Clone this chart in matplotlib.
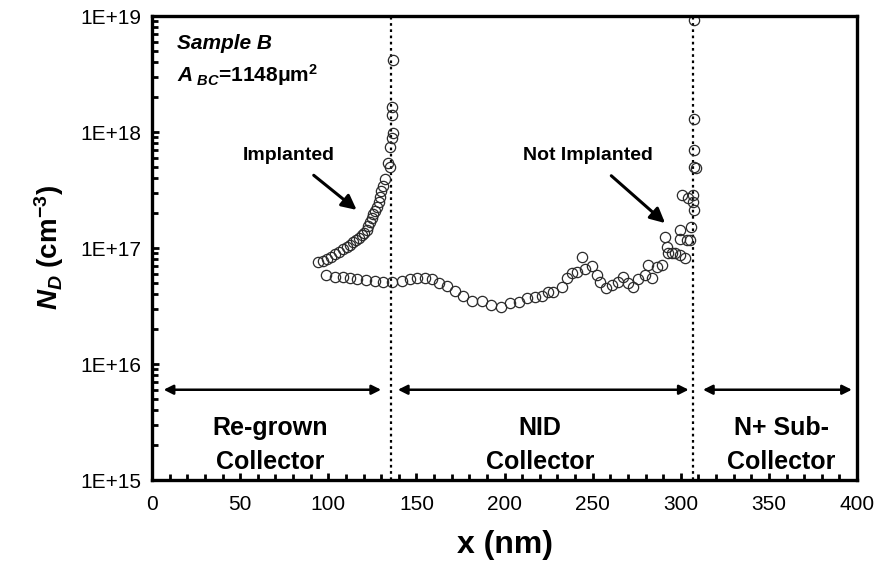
import numpy as np
import matplotlib
matplotlib.use("Agg")
import matplotlib.pyplot as plt
from matplotlib.ticker import FixedLocator, LogLocator, FuncFormatter, MultipleLocator, NullFormatter

plt.rcParams['font.family'] = ['Liberation Sans', 'DejaVu Sans']
plt.rcParams['mathtext.fontset'] = 'custom'
plt.rcParams['mathtext.it'] = 'Liberation Sans:italic:bold'
plt.rcParams['mathtext.rm'] = 'Liberation Sans:bold'
plt.rcParams['mathtext.bf'] = 'Liberation Sans:bold'

# Implanted profile (re-grown collector region)
implanted_x = [94.4, 97.0, 99.1, 101.5, 103.8, 106.2, 108.5, 110.5, 112.3, 114.0,
               115.7, 117.4, 119.0, 120.4, 121.8, 122.8, 123.7, 124.6, 125.4, 126.6,
               127.7, 128.6, 129.4, 130.2, 131.0, 132.2, 133.9, 135.0, 135.0, 136.2,
               136.7, 136.2, 136.2, 136.7]
implanted_nd = [7.5e16, 7.8e16, 8.1e16, 8.4e16, 8.8e16, 9.3e16, 9.8e16, 1.02e17, 1.06e17, 1.12e17,
                1.17e17, 1.23e17, 1.29e17, 1.36e17, 1.43e17, 1.54e17, 1.66e17, 1.80e17, 1.95e17, 2.10e17,
                2.24e17, 2.5e17, 2.75e17, 3.1e17, 3.4e17, 3.9e17, 5.4e17, 5.0e17, 7.4e17, 8.9e17,
                9.8e17, 1.4e18, 1.65e18, 4.2e18]

# Not implanted profile (through the NID collector)
not_impl_x = [98.6, 103.8, 108.5, 112.3, 116.1, 121.4, 126.5, 131.2, 136.0, 141.7,
              146.4, 150.5, 154.9, 158.7, 163.0, 167.2, 171.9, 176.3, 181.4, 187.1,
              192.3, 197.8, 203.1, 208.4, 212.6, 217.3, 221.4, 224.8, 227.7, 232.5,
              235.3, 238.1, 241.0, 243.8, 245.7, 249.5, 252.3, 254.2, 257.6, 260.8,
              264.6, 267.4, 270.2, 273.1, 275.9, 279.7, 283.5, 281.6, 286.4, 289.2,
              291.1, 292.0, 292.9, 294.9, 296.7, 299.6, 302.4, 299.6, 299.6, 303.4,
              305.2, 305.6, 300.5, 304.3, 307.1, 306.8, 307.5, 307.6, 308.4, 307.5,
              307.5, 307.5]
not_impl_nd = [5.85e16, 5.66e16, 5.6e16, 5.49e16, 5.37e16, 5.3e16, 5.22e16, 5.13e16, 5.13e16, 5.22e16,
               5.41e16, 5.48e16, 5.48e16, 5.37e16, 5.02e16, 4.7e16, 4.28e16, 3.86e16, 3.51e16, 3.51e16,
               3.23e16, 3.08e16, 3.34e16, 3.45e16, 3.68e16, 3.80e16, 3.88e16, 4.2e16, 4.2e16, 4.58e16,
               5.48e16, 6.05e16, 6.25e16, 8.3e16, 6.55e16, 7.0e16, 5.85e16, 5.13e16, 4.5e16, 4.8e16,
               5.13e16, 5.66e16, 4.97e16, 4.65e16, 5.37e16, 5.85e16, 5.48e16, 7.1e16, 6.9e16, 7.1e16,
               1.24e17, 1.03e17, 9.0e16, 9.0e16, 9.0e16, 8.7e16, 8.2e16, 1.43e17, 1.19e17, 1.17e17,
               1.17e17, 1.53e17, 2.87e17, 2.68e17, 2.87e17, 2.5e17, 2.13e17, 5.0e17, 4.9e17, 7.0e17,
               1.29e18, 9.2e18]

# Layer boundaries and region labels
boundaries = [135.5, 307.0]
regions = ["Re-grown\nCollector", "NID\nCollector", "N+ Sub-\nCollector"]
region_spans = [(6.6, 130.0), (139.5, 304.5), (312.6, 397.1)]
region_centers = [67.0, 220.0, 357.0]

fig = plt.figure(figsize=(8.8, 5.81), dpi=100)
ax = fig.add_axes([152/880, 1 - 480/581, 705/880, 464/581])

mk = dict(linestyle='none', marker='o', markersize=7.4, markerfacecolor='none',
          markeredgecolor='#2b2b2b', markeredgewidth=0.9)
ax.plot(implanted_x, implanted_nd, **mk)
ax.plot(not_impl_x, not_impl_nd, **mk)

for b in boundaries:
    ax.axvline(b, color='black', linestyle=(0, (1.2, 1.6)), linewidth=1.6, zorder=1)

ax.set_yscale('log')
ax.set_xlim(0, 400)
ax.set_ylim(1e15, 1e19)

ax.xaxis.set_major_locator(MultipleLocator(50))
ax.xaxis.set_minor_locator(MultipleLocator(10))
ax.yaxis.set_major_locator(FixedLocator([1e15, 1e16, 1e17, 1e18, 1e19]))
ax.yaxis.set_minor_locator(LogLocator(base=10, subs=np.arange(2, 10)))
ax.yaxis.set_minor_formatter(NullFormatter())
ax.yaxis.set_major_formatter(FuncFormatter(lambda v, p: "1E+%d" % round(np.log10(v))))

ax.tick_params(axis='both', which='both', direction='in', top=False, right=False,
               width=2, labelsize=15, pad=8)
ax.tick_params(axis='both', which='major', length=5)
ax.tick_params(axis='both', which='minor', length=4)
ax.tick_params(axis='x', which='major', pad=11)

for s in ax.spines.values():
    s.set_linewidth(2.4)

ax.set_xlabel("x (nm)", fontsize=23, fontweight='bold', labelpad=11)
ax.set_ylabel(r"$N_D$ (cm$^{-3}$)", fontsize=20, fontweight='bold', labelpad=10)

ax.text(0.035, 0.94, "Sample B", transform=ax.transAxes, fontsize=15,
        fontweight='bold', fontstyle='italic', va='center', ha='left')
ax.text(0.035, 0.872, r"$A_{\ BC}$=1148μm$^{2}$", transform=ax.transAxes, fontsize=15,
        fontweight='bold', va='center', ha='left')

ax.annotate("Implanted", xy=(116.1, 2.13e17), xytext=(77.7, 6.3e17),
            fontsize=14, fontweight='bold', ha='center', va='center',
            arrowprops=dict(arrowstyle='-|>', color='black', lw=2.2,
                            mutation_scale=22, shrinkA=10, shrinkB=0))
ax.annotate("Not Implanted", xy=(291.1, 1.64e17), xytext=(247.4, 6.3e17),
            fontsize=14, fontweight='bold', ha='center', va='center',
            arrowprops=dict(arrowstyle='-|>', color='black', lw=2.2,
                            mutation_scale=22, shrinkA=10, shrinkB=0))

for (x0, x1), cx, label in zip(region_spans, region_centers, regions):
    ax.annotate("", xy=(x0, 6e15), xytext=(x1, 6e15),
                arrowprops=dict(arrowstyle='<|-|>', color='black', lw=1.8,
                                mutation_scale=14, shrinkA=0, shrinkB=0))
    ax.text(cx, 2.0e15, label, fontsize=18, fontweight='bold', ha='center',
            va='center', linespacing=1.5)

fig.savefig("out.png", dpi=100)
